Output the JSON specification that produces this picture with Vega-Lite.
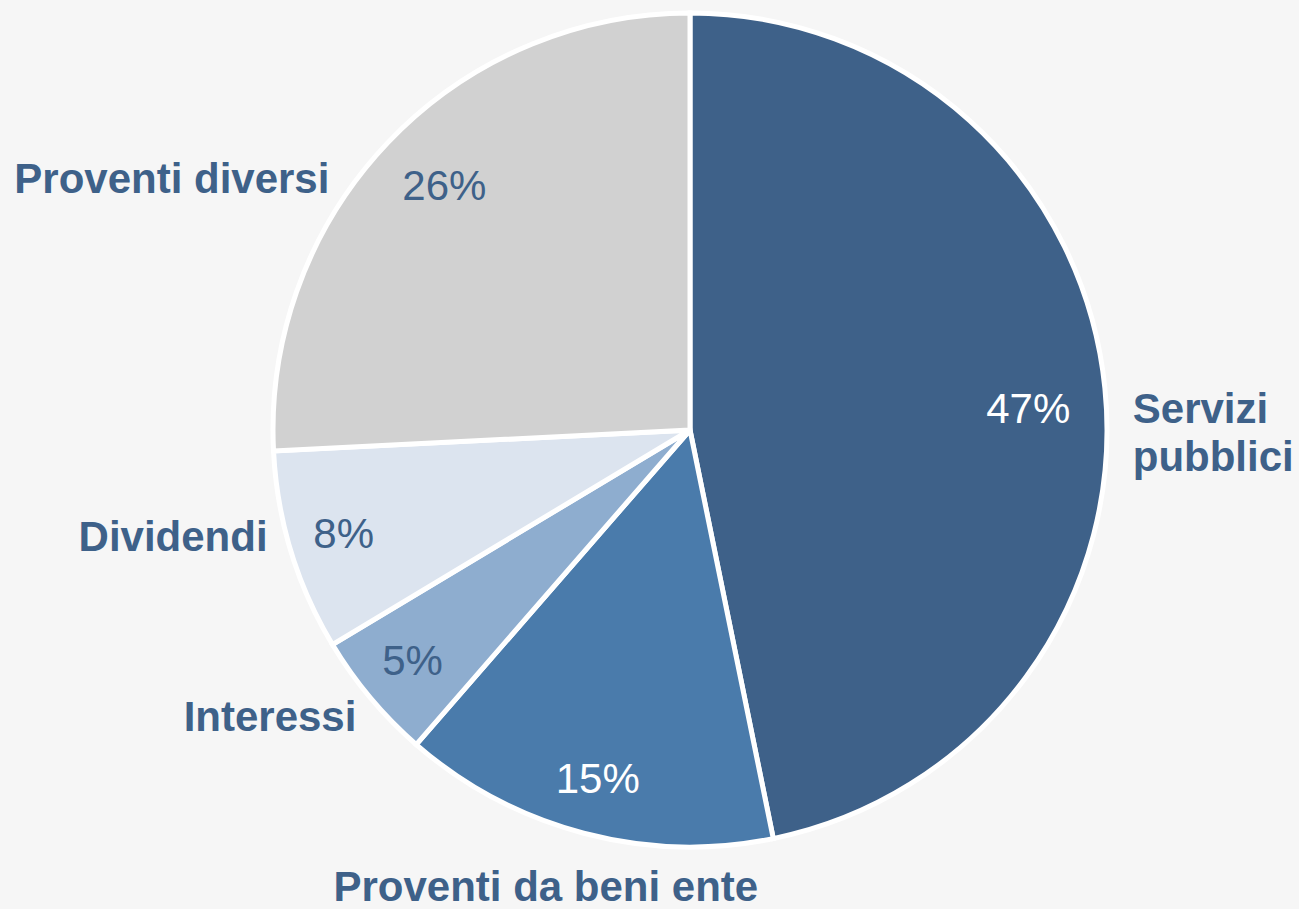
{
  "$schema": "https://vega.github.io/schema/vega-lite/v6.json",
  "autosize": "none",
  "width": 836,
  "height": 836,
  "padding": {"left": 272, "top": 12, "right": 191, "bottom": 61},
  "background": "#f6f6f6",
  "config": {"view": {"stroke": null}, "text": {"font": "Liberation Sans"}},
  "data": {
    "values": [
      {"rank": 1, "cat": "Servizi pubblici", "value": 46.8, "pct": "47%"},
      {"rank": 2, "cat": "Proventi da beni ente", "value": 14.6, "pct": "15%"},
      {"rank": 3, "cat": "Interessi", "value": 5.0, "pct": "5%"},
      {"rank": 4, "cat": "Dividendi", "value": 7.8, "pct": "8%"},
      {"rank": 5, "cat": "Proventi diversi", "value": 25.8, "pct": "26%"}
    ]
  },
  "encoding": {
    "theta": {"field": "value", "type": "quantitative", "stack": true},
    "order": {"field": "rank", "type": "quantitative"}
  },
  "layer": [
    {
      "mark": {"type": "arc", "outerRadius": 417, "stroke": "white", "strokeWidth": 5},
      "encoding": {
        "color": {
          "field": "cat", "type": "nominal", "legend": null,
          "scale": {
            "domain": ["Servizi pubblici", "Proventi da beni ente", "Interessi", "Dividendi", "Proventi diversi"],
            "range": ["#3e6189", "#4a7bab", "#8eadcf", "#dce4ef", "#d1d1d1"]
          }
        }
      }
    },
    {
      "mark": {"type": "text", "radius": 340, "dy": 14, "fontSize": 42, "baseline": "middle", "align": "center", "fill": "white"},
      "encoding": {"text": {"condition": {"test": "datum.rank === 1", "field": "pct"}, "value": ""}}
    },
    {
      "mark": {"type": "text", "radius": 362, "fontSize": 42, "baseline": "middle", "align": "center"},
      "encoding": {
        "text": {"condition": {"test": "datum.rank >= 2 && datum.rank <= 4", "field": "pct"}, "value": ""},
        "color": {"condition": {"test": "datum.rank === 2", "value": "white"}, "value": "#3e6189"}
      }
    },
    {
      "mark": {"type": "text", "radius": 350, "dx": 8, "dy": -2, "fontSize": 42, "baseline": "middle", "align": "center", "fill": "#3e6189"},
      "encoding": {"text": {"condition": {"test": "datum.rank === 5", "field": "pct"}, "value": ""}}
    },
    {
      "mark": {"type": "text", "radius": 445, "dy": 25, "fontSize": 42, "fontWeight": "bold", "baseline": "middle", "align": "left", "fill": "#3e6189", "lineBreak": " ", "lineHeight": 48},
      "encoding": {"text": {"condition": {"test": "datum.rank === 1", "field": "cat"}, "value": ""}}
    },
    {
      "mark": {"type": "text", "radius": 460, "dx": -27, "dy": 13, "fontSize": 42, "fontWeight": "bold", "baseline": "middle", "align": "center", "fill": "#3e6189"},
      "encoding": {"text": {"condition": {"test": "datum.rank === 2", "field": "cat"}, "value": ""}}
    },
    {
      "mark": {"type": "text", "radius": 430, "dx": -4, "dy": 12, "fontSize": 42, "fontWeight": "bold", "baseline": "middle", "align": "right", "fill": "#3e6189"},
      "encoding": {"text": {"condition": {"test": "datum.rank === 3", "field": "cat"}, "value": ""}}
    },
    {
      "mark": {"type": "text", "radius": 430, "dx": -11, "dy": -17, "fontSize": 42, "fontWeight": "bold", "baseline": "middle", "align": "right", "fill": "#3e6189"},
      "encoding": {"text": {"condition": {"test": "datum.rank === 4", "field": "cat"}, "value": ""}}
    },
    {
      "mark": {"type": "text", "radius": 430, "dx": -49, "dy": 46, "fontSize": 42, "fontWeight": "bold", "baseline": "middle", "align": "right", "fill": "#3e6189"},
      "encoding": {"text": {"condition": {"test": "datum.rank === 5", "field": "cat"}, "value": ""}}
    }
  ]
}
